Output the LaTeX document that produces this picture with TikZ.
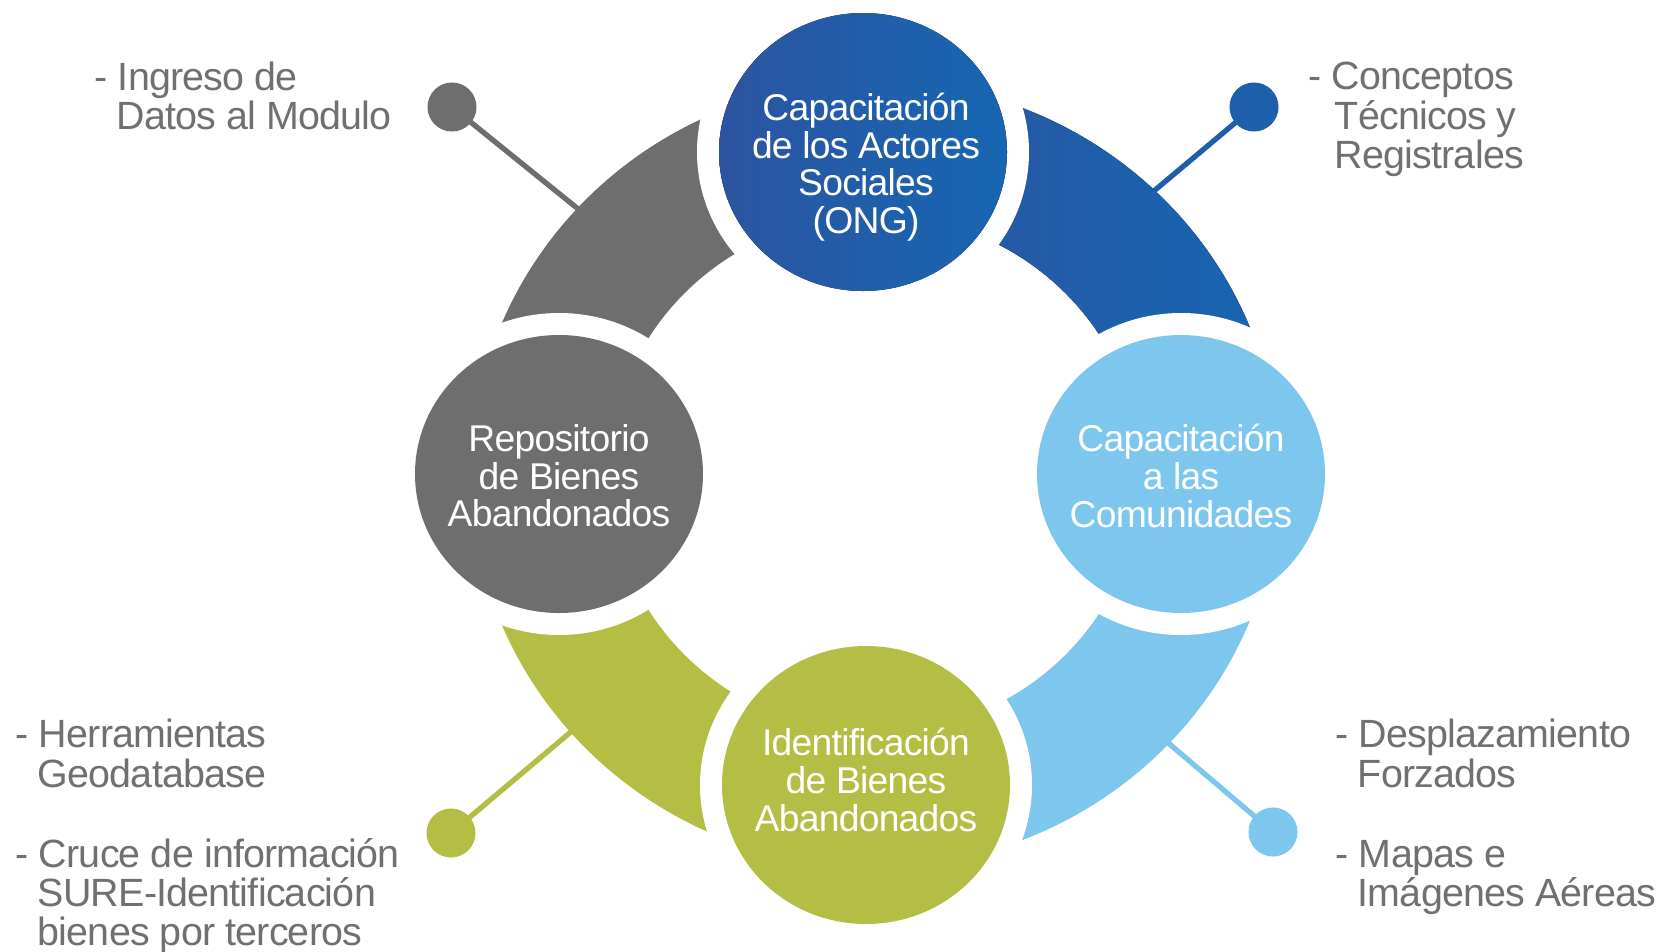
\documentclass[tikz,border=0pt]{standalone}
\usepackage{fontspec}
\setmainfont{Liberation Sans}
\newfontfamily\sidefont[LetterSpace=-2]{Liberation Sans}
\newfontfamily\circfont[LetterSpace=-2]{Liberation Sans}
\definecolor{cgray}{RGB}{110,110,110}
\definecolor{cblueA}{RGB}{44,84,160}
\definecolor{cblueB}{RGB}{22,102,178}
\definecolor{cblue}{RGB}{30,95,172}
\definecolor{clight}{RGB}{125,199,239}
\definecolor{colive}{RGB}{181,190,68}
\definecolor{ctext}{RGB}{112,112,112}
\tikzset{
  pindot/.style={circle, inner sep=0pt, minimum size=0.49cm},
  pinline/.style={line width=1.5pt},
  sidetext/.style={anchor=base west, inner sep=0pt, text=ctext, font=\sidefont\fontsize{11.2}{11.4}\selectfont},
  circtext/.style={align=center, inner sep=0pt, text=white, font=\circfont\fontsize{10.6}{10.7}\selectfont},
}
\begin{document}
\begin{tikzpicture}[x=0.01cm,y=-0.01cm]
\useasboundingbox (0,0) rectangle (1657,951);
\fill[white] (0,0) rectangle (1657,951);
% pins (drawn below the ring)
\node[pindot, fill=cgray]  (d1) at (452,107) {};
\node[pindot, fill=cblue]  (d2) at (1254,107) {};
\node[pindot, fill=colive] (d3) at (451,833) {};
\node[pindot, fill=clight] (d4) at (1273,832) {};
\coordinate (e1) at (593,221);
\coordinate (e2) at (1142,201);
\coordinate (e3) at (585,720);
\coordinate (e4) at (1153,730);
\draw[pinline, cgray]  (d1.center) -- (e1);
\draw[pinline, cblue]  (d2.center) -- (e2);
\draw[pinline, colive] (d3.center) -- (e3);
\draw[pinline, clight] (d4.center) -- (e4);
% ring quadrants
\fill[cgray] (471,474) arc[start angle=180,end angle=270,x radius=404,y radius=393]
  -- (875,215) arc[start angle=270,end angle=180,x radius=266,y radius=259] -- cycle;
\fill[left color=cblueA, right color=cblueB] (875,81) arc[start angle=270,end angle=360,x radius=404,y radius=393]
  -- (1141,474) arc[start angle=360,end angle=270,x radius=266,y radius=259] -- cycle;
\fill[clight] (1279,474) arc[start angle=0,end angle=90,x radius=404,y radius=393]
  -- (875,733) arc[start angle=90,end angle=0,x radius=266,y radius=259] -- cycle;
\fill[colive] (875,867) arc[start angle=90,end angle=180,x radius=404,y radius=393]
  -- (609,474) arc[start angle=180,end angle=90,x radius=266,y radius=259] -- cycle;
% white gaps around circles
\foreach \cx/\cy in {863/152, 559/474, 1181/474, 866/785}
  \fill[white] (\cx,\cy) ellipse[x radius=166, y radius=161];
% circles
\fill[left color=cblueA, right color=cblueB] (863,152) ellipse[x radius=144, y radius=139];
\fill[cgray]  (559,474) ellipse[x radius=144, y radius=139];
\fill[clight] (1181,474) ellipse[x radius=144, y radius=139];
\fill[colive] (866,785) ellipse[x radius=144, y radius=139];
\node[circtext] (c1) at (866,167) {Capacitación\\de los Actores\\Sociales\\(ONG)};
\node[circtext] (c2) at (559,476) {Repositorio\\de Bienes\\Abandonados};
\node[circtext] (c3) at (1181,476) {Capacitación\\a las\\Comunidades};
\node[circtext] (c4) at (866,780) {Identificación\\de Bienes\\Abandonados};
% side texts
\node[sidetext] (t1a) at (94,90) {- Ingreso de};
\node[sidetext] (t1b) at (116,129) {Datos al Modulo};
\node[sidetext] (t2a) at (1308,89) {- Conceptos};
\node[sidetext] (t2b) at (1334,129) {Técnicos y};
\node[sidetext] (t2c) at (1334,168) {Registrales};
\node[sidetext] (t3a) at (15,747) {- Herramientas};
\node[sidetext] (t3b) at (37,787) {Geodatabase};
\node[sidetext] (t3c) at (15,867) {- Cruce de información};
\node[sidetext] (t3d) at (37,906) {SURE-Identificación};
\node[sidetext] (t3e) at (37,945) {bienes por terceros};
\node[sidetext] (t4a) at (1335,747) {- Desplazamiento};
\node[sidetext] (t4b) at (1357,787) {Forzados};
\node[sidetext] (t4c) at (1335,867) {- Mapas e};
\node[sidetext] (t4d) at (1357,906) {Imágenes Aéreas};
\end{tikzpicture}
\end{document}
